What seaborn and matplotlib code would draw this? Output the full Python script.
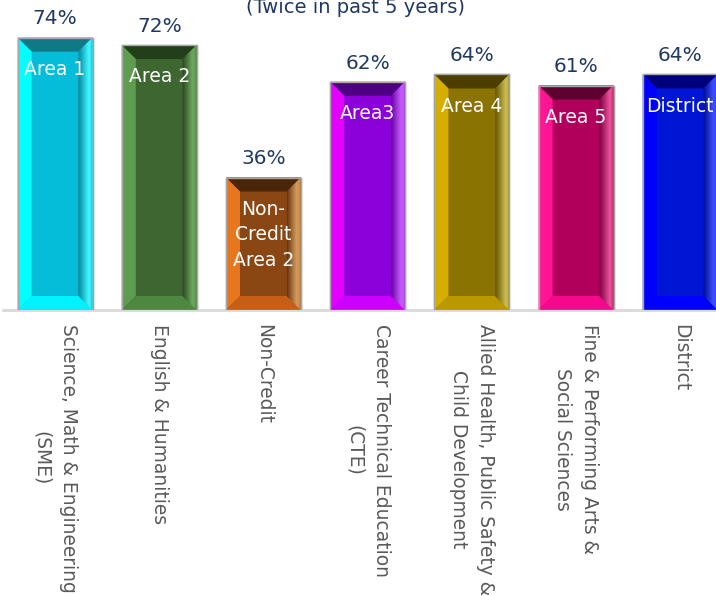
import numpy as np
import matplotlib
matplotlib.use("Agg")
import matplotlib.pyplot as plt
import matplotlib.colors as mcolors
import seaborn as sns
from matplotlib.patches import Polygon, Rectangle

# data
categories = ["Science, Math & Engineering\n(SME)", "English & Humanities", "Non-Credit",
              "Career Technical Education\n(CTE)", "Allied Health, Public Safety &\nChild Development",
              "Fine & Performing Arts &\nSocial Sciences", "District"]
values = [74, 72, 36, 62, 64, 61, 64]
inner_labels = ["Area 1", "Area 2", "Non-\nCredit\nArea 2", "Area3", "Area 4", "Area 5", "District"]
title_text = "(Twice in past 5 years)"

# bevel colours: face, top, left, right (outer, light), bottom
face_colors = ["#05BCD9", "#3D6631", "#8B4713", "#8C00DA", "#8A7300", "#B0005B", "#0016D4"]
top_colors = ["#0F7A86", "#21401A", "#4A2508", "#4E0082", "#4B3E00", "#5E0131", "#00007A"]
left_colors = ["#00FFFF", "#5E9C4F", "#E8761F", "#E300FF", "#D6AE00", "#FF1493", "#0000FF"]
right_colors = ["#40F4FF", "#6EAA60", "#D8A060", "#C860FF", "#C8BC50", "#E8509A", "#4050FF"]
bottom_colors = ["#00F2FF", "#4D8840", "#C65E16", "#CB00FF", "#BA9800", "#F5088C", "#0000FF"]

navy = "#1F3864"


def mix(c1, c2, t):
    a = np.array(mcolors.to_rgb(c1))
    b = np.array(mcolors.to_rgb(c2))
    return tuple(a + (b - a) * t)


sns.set_style("white")
plt.rcParams['font.family'] = ['DejaVu Sans']

fig = plt.figure(figsize=(7.16, 5.96), dpi=100)
ax = fig.add_axes([3 / 716, 286 / 596, 729.4 / 716, 294.4 / 596])

sns.barplot(x=categories, y=values, hue=categories, palette=face_colors, legend=False,
            width=0.72, edgecolor="#A6A6A6", linewidth=1, saturation=1, ax=ax)

ax.set_xlim(-0.5, 6.5)
ax.set_ylim(0, 80)

# bevel size in data units (~14 px)
px_x = (ax.get_xlim()[1] - ax.get_xlim()[0]) / (729.4)
px_y = (ax.get_ylim()[1] - ax.get_ylim()[0]) / (294.4)
bx = 14 * px_x
by = 14 * px_y

for i, p in enumerate(ax.patches[:len(values)]):
    x0, y0 = p.get_x(), p.get_y()
    w, h = p.get_width(), p.get_height()
    x1, y1 = x0 + w, y0 + h
    ix0, ix1, iy0, iy1 = x0 + bx, x1 - bx, y0 + by, y1 - by
    pieces = [
        ([(x0, y1), (x1, y1), (ix1, iy1), (ix0, iy1)], top_colors[i]),
        ([(x0, y0), (x0, y1), (ix0, iy1), (ix0, iy0)], left_colors[i]),
        ([(x0, y0), (x1, y0), (ix1, iy0), (ix0, iy0)], bottom_colors[i]),
    ]
    for pts, c in pieces:
        ax.add_patch(Polygon(pts, closed=True, facecolor=c, edgecolor="none", zorder=3))

    # right bevel drawn as a gradient of thin strips
    dark = mix(face_colors[i], "black", 0.3)
    light = mcolors.to_rgb(right_colors[i])
    stops = [0.0, 0.35, 0.7, 0.85, 1.0]
    cols = [dark, mix(dark, light, 0.5), light, light, mix(light, dark, 0.4)]
    n = 12
    xs = np.linspace(ix1, x1, n + 1)
    for k in range(n):
        a, b = xs[k], xs[k + 1]
        t = (k + 0.5) / n
        c = tuple(float(np.interp(t, stops, [cc[j] for cc in cols])) for j in range(3))
        fa, fb = (a - ix1) / (x1 - ix1), (b - ix1) / (x1 - ix1)
        pts = [(a, iy0 - fa * by), (b, iy0 - fb * by), (b, iy1 + fb * by), (a, iy1 + fa * by)]
        ax.add_patch(Polygon(pts, closed=True, facecolor=c, edgecolor=c, linewidth=0.3, zorder=3))

    ax.add_patch(Rectangle((x0, y0), w, h, fill=False, edgecolor="#A6A6A6", linewidth=1, zorder=4))

    ax.annotate(f"{values[i]}%", (p.get_x() + w / 2, y1), xytext=(0, 9.5), textcoords="offset points",
                ha="center", va="baseline", fontsize=14.5, color=navy, annotation_clip=False)
    ax.annotate(inner_labels[i], (p.get_x() + w / 2, y1), xytext=(0, -16), textcoords="offset points",
                ha="center", va="top", fontsize=13.5, color="white", zorder=5,
                linespacing=1.45, multialignment="center", annotation_clip=False)

for s in ["top", "left", "right"]:
    ax.spines[s].set_visible(False)
ax.spines["bottom"].set_color("#D9D9D9")
ax.spines["bottom"].set_linewidth(2)
ax.set_yticks([])
ax.set_xlabel("")
ax.set_ylabel("")
ax.tick_params(axis="x", length=0, pad=10, labelsize=13.4, labelcolor="#595959")
plt.setp(ax.get_xticklabels(), rotation=-90, ha="center", va="top", multialignment="center",
         linespacing=1.55)

fig.text(355 / 716, 1 - 13 / 596, title_text, ha="center", va="baseline", fontsize=14, color=navy)

fig.savefig("out.png", dpi=100)
